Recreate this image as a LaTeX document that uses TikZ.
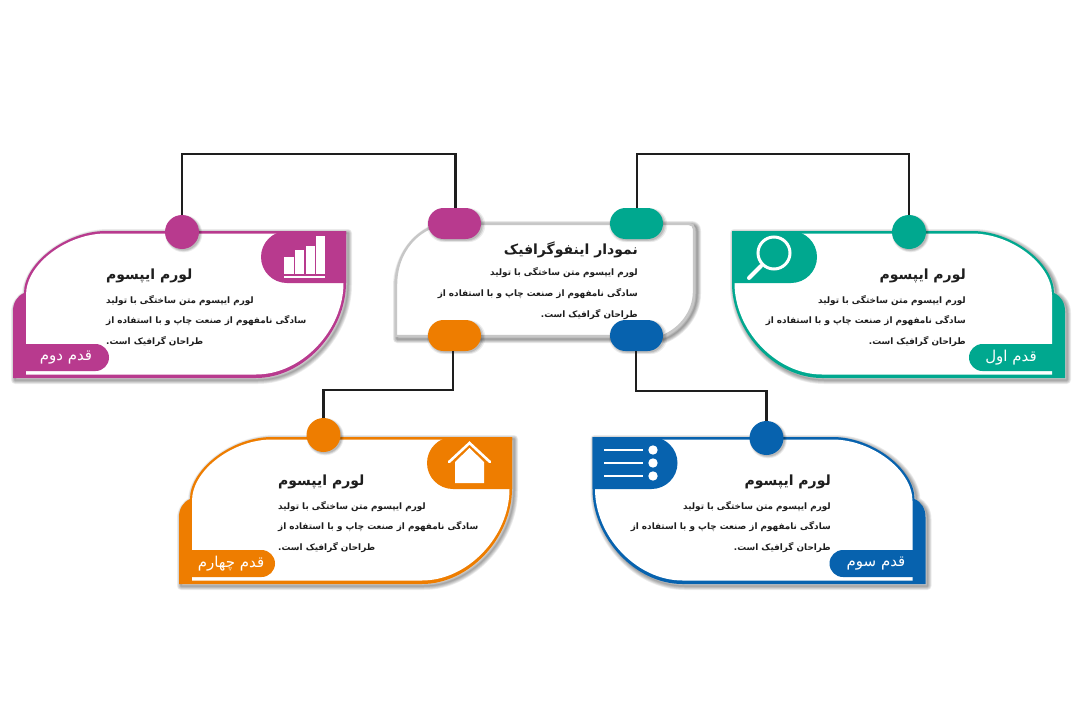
\documentclass[tikz,border=0pt]{standalone}
\usepackage{fontspec}
\usetikzlibrary{shadows,shapes.misc}
\TeXXeTstate=1
\newfontfamily\arabicfont[Script=Arabic]{DejaVu Sans}
\definecolor{cmag}{HTML}{B83A8E}
\definecolor{cteal}{HTML}{00A88F}
\definecolor{cblue}{HTML}{0762AE}
\definecolor{corange}{HTML}{EE7D00}
\definecolor{cink}{HTML}{1E1E1E}
\newcommand{\lineone}{\beginR لورم ایپسوم متن ساختگی با تولید\endR}
\newcommand{\linetwo}{\beginR سادگی نامفهوم از صنعت چاپ و با استفاده از\endR}
\newcommand{\linethree}{\beginR طراحان گرافیک است.\endR}
\newcommand{\cardouter}{(0,0) -- (240,0) .. controls (280,0) and (322,32) .. (322,62) .. controls (329,65) and (333,72) .. (333,80) -- (333,147) -- (90,147) .. controls (42,147) and (0,100) .. (0,52) -- cycle}
\newcommand{\cardinner}{(2.5,2.5) -- (240,2.5) .. controls (279,2.5) and (320,33) .. (320,64) -- (320,143.5) -- (90,143.5) .. controls (44,143.5) and (2.5,99) .. (2.5,52) -- cycle}
\newcommand{\cardshape}[4]{%
  \begin{scope}[shift={(#1,#2)},xscale=#3]
    \foreach \w in {8,6.5,5,3.5,2,0.5}{\path[draw=black,line width=\w pt,opacity=.07,line join=round,shift={({-2+4*(#3+1)/2},2)}] \cardouter;}
    \fill[#4] \cardouter;
    \fill[white] \cardinner;
    \fill[#4] (0,0) [rounded corners=26pt] -- (85,0) -- (85,52) [sharp corners] -- (0,52) -- cycle;
    \fill[#4] (322,113) [rounded corners=13.5pt] -- (237,113) -- (237,140) [sharp corners] -- (322,140) -- cycle;
  \end{scope}}
\tikzset{
  softshadow/.style={
    general shadow={fill=black,opacity=.07,shadow xshift=1.5pt,shadow yshift=-1.5pt,shadow scale=1.1},
    general shadow={fill=black,opacity=.1,shadow xshift=1.5pt,shadow yshift=-1.5pt,shadow scale=1.05},
    general shadow={fill=black,opacity=.12,shadow xshift=1.5pt,shadow yshift=-1.5pt}},
  dot/.style={circle,minimum size=34pt,inner sep=0pt,softshadow},
  lozenge/.style={rounded rectangle,minimum width=53pt,minimum height=31pt,inner sep=0pt,softshadow},
  link/.style={draw=cink,line width=2.8pt,line join=miter},
  title/.style={text=cink,font=\arabicfont\bfseries\fontsize{14}{16}\selectfont,inner sep=0pt},
  bodyr/.style={text=cink,align=right,anchor=east,font=\arabicfont\bfseries\fontsize{8.85}{20.6}\selectfont,inner sep=0pt},
  bodyl/.style={text=cink,align=left,anchor=west,font=\arabicfont\bfseries\fontsize{8.85}{20.6}\selectfont,inner sep=0pt},
  steplabel/.style={text=white,font=\arabicfont\fontsize{15}{17}\selectfont,inner sep=0pt},
}
\begin{document}
\begin{tikzpicture}[x=1pt,y=-1pt]
\useasboundingbox (0,0) rectangle (1080,720);
\fill[white] (0,0) rectangle (1080,720);

% cards
\cardshape{732}{231}{1}{cteal}
\cardshape{592.5}{437}{1}{cblue}
\cardshape{346}{231}{-1}{cmag}
\cardshape{512}{437}{-1}{corange}

% centre card
\foreach \w in {8,6.5,5,3.5,2,0.5}{\path[draw=black,line width=\w pt,opacity=.08,line join=round,shift={(2,2)}] (395,337) -- (395,285) .. controls (395,258) and (410,238) .. (428,228) -- (440,223) -- (689,223) .. controls (693,223) and (695,225) .. (695,229) -- (695,292) .. controls (695,312) and (680,330) .. (663,337) -- cycle;}
\path[fill=white,draw=black!22,line width=2.4pt] (396,336) -- (396,285) .. controls (396,258) and (410,238) .. (428,229) -- (440,224) -- (689,224) .. controls (692,224) and (694,226) .. (694,229) -- (694,292) .. controls (694,312) and (680,329) .. (663,336) -- cycle;

% icon: bars
\fill[white] (284.3,256.7) rectangle (294,274);
\fill[white] (295,250) rectangle (304.3,274);
\fill[white] (305.7,246) rectangle (315,274);
\fill[white] (316,235.7) rectangle (325,274);
\fill[white] (284.3,276) rectangle (325,277.7);
% icon: magnifier
\draw[white,line width=3pt] (774,253) circle (16);
\draw[white,line width=4pt,line cap=round] (761,266) -- (749,278);
% icon: house
\fill[white] (455,483) -- (455,462) -- (469.5,448) -- (484,462) -- (484,483) -- cycle;
\draw[white,line width=2.6pt,line cap=round] (449,462) -- (469.5,443) -- (490,462);
% icon: list
\draw[white,line width=1.6pt] (604,450) -- (643,450) (604,463) -- (643,463) (604,476) -- (643,476);
\fill[white] (653,450) circle (4.7) (653,463) circle (4.7) (653,476) circle (4.7);

% connection nodes
\node[dot,fill=cteal] (ct) at (909,232) {};
\node[dot,fill=cblue] (cb) at (766.5,438) {};
\node[dot,fill=cmag] (cm) at (182,232) {};
\node[dot,fill=corange] (co) at (323.5,435) {};
\node[lozenge,fill=cmag] (pm) at (454.5,223.5) {};
\node[lozenge,fill=cteal] (pt) at (636.5,223.5) {};
\node[lozenge,fill=corange] (po) at (454.5,335.5) {};
\node[lozenge,fill=cblue] (pb) at (636.5,335.5) {};

% connectors
\coordinate (a1) at (455.5,154);
\coordinate (a2) at (182,154);
\coordinate (b1) at (637,154);
\coordinate (b2) at (909,154);
\coordinate (d1) at (453,390);
\coordinate (d2) at (323.5,390);
\coordinate (e1) at (636,391);
\coordinate (e2) at (766.5,391);
\draw[link] (pm.north -| a1) -- (a1) -- (a2) -- (cm.north);
\draw[link] (pt.north -| b1) -- (b1) -- (b2) -- (ct.north);
\draw[link] (po.south -| d1) -- (d1) -- (d2) -- (co.north);
\draw[link] (pb.south -| e1) -- (e1) -- (e2) -- (cb.north);

% titles
\node[title,anchor=east] (t0) at (638,250) {\beginR نمودار اینفوگرافیک\endR};
\node[title,anchor=east] (t1) at (966,276) {\beginR لورم ایپسوم\endR};
\node[title,anchor=east] (t3) at (831,482) {\beginR لورم ایپسوم\endR};
\node[title,anchor=west] (t2) at (106,276) {\beginR لورم ایپسوم\endR};
\node[title,anchor=west] (t4) at (278,482) {\beginR لورم ایپسوم\endR};

% body text
\node[bodyr] (b0) at (638,293.5) {\lineone\\\linetwo\\\linethree};
\node[bodyr] (b1t) at (966,321) {\lineone\\\linetwo\\\linethree};
\node[bodyr] (b3t) at (831,527) {\lineone\\\linetwo\\\linethree};
\node[bodyl] (b2t) at (106,321) {\lineone\\\linetwo\\\linethree};
\node[bodyl] (b4t) at (278,527) {\lineone\\\linetwo\\\linethree};

% step labels
\node[steplabel] (s1) at (1011,358) {\beginR قدم اول\endR};
\node[steplabel] (s2) at (66,358) {\beginR قدم دوم\endR};
\node[steplabel] (s3) at (876,564) {\beginR قدم سوم\endR};
\node[steplabel] (s4) at (231,564) {\beginR قدم چهارم\endR};
\end{tikzpicture}
\end{document}
